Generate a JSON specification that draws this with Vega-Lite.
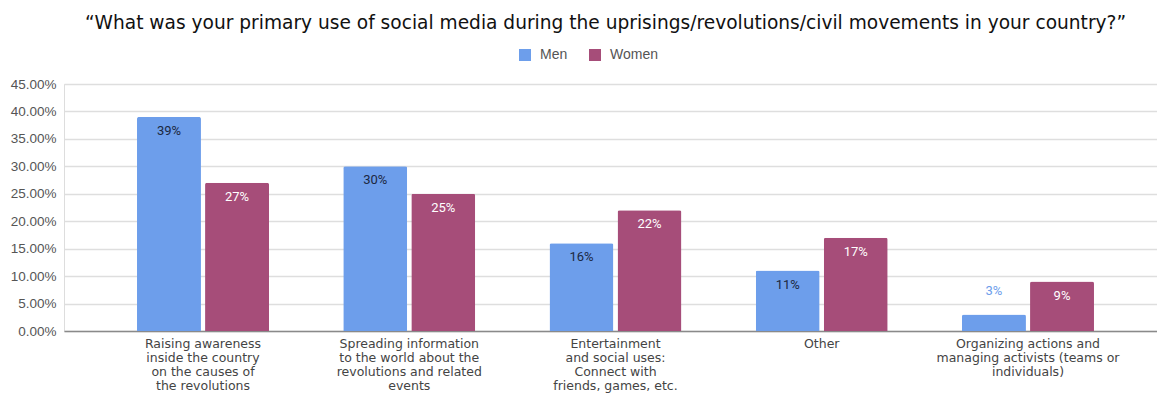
{
  "$schema": "https://vega.github.io/schema/vega-lite/v6.json",
  "autosize": "none",
  "width": 1093,
  "height": 247,
  "padding": {"left": 64, "top": 84, "right": 0, "bottom": 68},
  "background": "white",
  "title": {
    "text": "“What was your primary use of social media during the uprisings/revolutions/civil movements in your country?”",
    "font": "DejaVu Sans",
    "fontSize": 18.6,
    "fontWeight": "normal",
    "color": "#111111",
    "anchor": "middle",
    "dx": -5,
    "offset": 15
  },
  "data": {
    "values": [
      {"category": "Raising awareness|inside the country|on the causes of|the revolutions", "gender": "Men", "value": 0.39},
      {"category": "Raising awareness|inside the country|on the causes of|the revolutions", "gender": "Women", "value": 0.27},
      {"category": "Spreading information|to the world about the|revolutions and related|events", "gender": "Men", "value": 0.30},
      {"category": "Spreading information|to the world about the|revolutions and related|events", "gender": "Women", "value": 0.25},
      {"category": "Entertainment|and social uses:|Connect with|friends, games, etc.", "gender": "Men", "value": 0.16},
      {"category": "Entertainment|and social uses:|Connect with|friends, games, etc.", "gender": "Women", "value": 0.22},
      {"category": "Other", "gender": "Men", "value": 0.11},
      {"category": "Other", "gender": "Women", "value": 0.17},
      {"category": "Organizing actions and|managing activists (teams or|individuals)", "gender": "Men", "value": 0.03},
      {"category": "Organizing actions and|managing activists (teams or|individuals)", "gender": "Women", "value": 0.09}
    ]
  },
  "encoding": {
    "x": {
      "field": "category",
      "type": "nominal",
      "sort": null,
      "title": null,
      "scale": {"range": [0, 1103], "paddingInner": 0.36, "paddingOuter": 0.354},
      "axis": {
        "labelExpr": "split(datum.label, '|')",
        "labelAngle": 0,
        "labelFont": "DejaVu Sans",
        "labelFontSize": 12.5,
        "labelColor": "#444444",
        "labelLineHeight": 14,
        "labelPadding": 6,
        "labelBaseline": "top",
        "ticks": false,
        "domain": true,
        "domainColor": "#8a8a8a",
        "domainWidth": 1.5,
        "labelLimit": 300
      }
    },
    "xOffset": {
      "field": "gender",
      "type": "nominal",
      "scale": {"paddingInner": 0.06, "paddingOuter": 0}
    },
    "y": {
      "field": "value",
      "type": "quantitative",
      "title": null,
      "scale": {"domain": [0, 0.45], "nice": false},
      "axis": {
        "values": [0, 0.05, 0.1, 0.15, 0.2, 0.25, 0.3, 0.35, 0.4, 0.45],
        "format": ".2%",
        "domain": false,
        "ticks": false,
        "labelPadding": 8,
        "labelFont": "Liberation Sans",
        "labelFontSize": 13.5,
        "labelColor": "#555555",
        "gridColor": "#dedede",
        "gridWidth": 1.3
      }
    }
  },
  "layer": [
    {
      "mark": {"type": "bar", "cornerRadiusEnd": 2},
      "encoding": {
        "color": {
          "field": "gender",
          "type": "nominal",
          "scale": {"domain": ["Men", "Women"], "range": ["#6d9eeb", "#a64d79"]},
          "legend": {
            "title": null,
            "orient": "none",
            "direction": "horizontal",
            "legendX": 454,
            "legendY": -36,
            "symbolType": "square",
            "symbolSize": 144,
            "symbolStrokeWidth": 0,
            "labelFont": "Liberation Sans",
            "labelFontSize": 14,
            "labelColor": "#555555",
            "labelOffset": 8,
            "columnPadding": 20
          }
        }
      }
    },
    {
      "transform": [{"filter": "datum.value >= 0.05"}],
      "mark": {"type": "text", "baseline": "top", "dy": 8, "font": "Roboto", "fontSize": 13},
      "encoding": {
        "text": {"field": "value", "type": "quantitative", "format": ".0%"},
        "color": {
          "condition": {"test": "datum.gender === 'Men'", "value": "#1c2841"},
          "value": "#ffffff"
        }
      }
    },
    {
      "transform": [{"filter": "datum.value < 0.05"}],
      "mark": {"type": "text", "baseline": "bottom", "dy": -17, "font": "Roboto", "fontSize": 13, "color": "#6d9eeb"},
      "encoding": {
        "text": {"field": "value", "type": "quantitative", "format": ".0%"}
      }
    }
  ]
}
